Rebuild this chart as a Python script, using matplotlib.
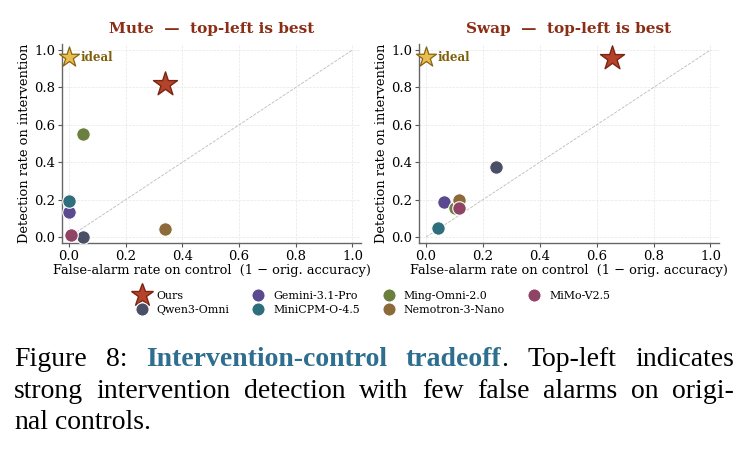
import matplotlib
matplotlib.use("Agg")
import matplotlib.pyplot as plt
from matplotlib.lines import Line2D

# ---------------- data ----------------
models = ["Ours", "Qwen3-Omni", "Gemini-3.1-Pro", "MiniCPM-O-4.5",
          "Ming-Omni-2.0", "Nemotron-3-Nano", "MiMo-V2.5"]
colors = ["#b5432a", "#4a4f66", "#5b4a8f", "#2f6f7d",
          "#6b7f3e", "#8c6a3a", "#8f4466"]
mute_far = [0.34, 0.05, 0.0, 0.0, 0.05, 0.34, 0.008]
mute_det = [0.82, 0.0, 0.134, 0.191, 0.552, 0.043, 0.013]
swap_far = [0.653, 0.246, 0.063, 0.043, 0.10, 0.115, 0.114]
swap_det = [0.956, 0.374, 0.185, 0.048, 0.155, 0.199, 0.153]
ideal_xy = (0.0, 0.96)
ticks = [0.0, 0.2, 0.4, 0.6, 0.8, 1.0]
titles = ["Mute  \u2014  top-left is best", "Swap  \u2014  top-left is best"]

plt.rcParams["font.family"] = ["DejaVu Serif"]

fig = plt.figure(figsize=(7.48, 4.57), dpi=100)
W, H = 748, 457

def px_axes(x0, x1, ytop, ybot):
    return fig.add_axes([x0 / W, 1 - ybot / H, (x1 - x0) / W, (ybot - ytop) / H])

axes = [px_axes(62, 361, 44, 243), px_axes(419, 719, 44, 243)]
panels = [(mute_far, mute_det), (swap_far, swap_det)]

for ax, (fx, dy), title in zip(axes, panels, titles):
    ax.set_xlim(-0.025, 1.03)
    ax.set_ylim(-0.032, 1.032)
    ax.set_xticks(ticks)
    ax.set_yticks(ticks)
    ax.set_xticklabels([f"{t:.1f}" for t in ticks])
    ax.set_yticklabels([f"{t:.1f}" for t in ticks])
    ax.tick_params(labelsize=9.5, length=3, width=0.8, color="#555555", pad=2)
    for s in ["top", "right"]:
        ax.spines[s].set_visible(False)
    for s in ["left", "bottom"]:
        ax.spines[s].set_color("#666666")
        ax.spines[s].set_linewidth(1.0)
    ax.grid(True, ls="--", lw=0.5, color="#e6e6e6")
    ax.set_axisbelow(True)
    ax.plot([0, 1], [0, 1], ls="--", lw=0.6, color="#bbbbbb", zorder=1)
    for i, m in enumerate(models):
        if m == "Ours":
            ax.scatter(fx[i], dy[i], marker="*", s=330, color=colors[i],
                       edgecolor="#7b2512", linewidth=1.0, zorder=5)
        else:
            ax.scatter(fx[i], dy[i], marker="o", s=95, color=colors[i],
                       edgecolor="white", linewidth=0.8, zorder=4)
    ax.scatter(*ideal_xy, marker="*", s=230, color="#e8bf4f",
               edgecolor="#8a6410", linewidth=0.9, zorder=6, clip_on=False)
    ax.annotate("ideal", xy=ideal_xy, xytext=(8, 0), textcoords="offset points",
                ha="left", va="center", fontsize=8.5, fontweight="bold",
                color="#7d5f0c")
    ax.set_title(title, fontsize=11, fontweight="bold", color="#8b2e16", pad=8)
    ax.set_xlabel("False-alarm rate on control  (1 \u2212 orig. accuracy)",
                  fontsize=9.4, labelpad=1)
    ax.set_ylabel("Detection rate on intervention", fontsize=9.4, labelpad=2)

handles = []
for i, m in enumerate(models):
    if m == "Ours":
        handles.append(Line2D([], [], ls="", marker="*", markersize=17,
                              color=colors[i], markeredgecolor="#7b2512",
                              markeredgewidth=1.0, label=m))
    else:
        handles.append(Line2D([], [], ls="", marker="o", markersize=9.5,
                              color=colors[i], markeredgecolor="white",
                              markeredgewidth=0.8, label=m))
fig.legend(handles=handles, loc="center", bbox_to_anchor=(0.497, 1 - 303 / H),
           ncol=4, frameon=False, fontsize=7.9, handletextpad=0.6,
           columnspacing=1.9, labelspacing=0.35, handlelength=1.5)

# ---------------- caption ----------------
cap_font = "Liberation Serif"
cap_size = 20
blue = "#2e6e8e"
renderer = fig.canvas.get_renderer()

def seg_width(txt, bold):
    t = fig.text(0, 0, txt, fontsize=cap_size, family=cap_font,
                 fontweight="bold" if bold else "normal")
    w = t.get_window_extent(renderer=renderer).width
    t.remove()
    return w

lines = [
    ([[("Figure", False, "black")], [("8:", False, "black")],
      [("Intervention-control", True, blue)],
      [("tradeoff", True, blue), (".", False, "black")],
      [("Top-left", False, "black")], [("indicates", False, "black")]], True),
    ([[(w, False, "black")] for w in
      "strong intervention detection with few false alarms on origi-".split()], True),
    ([[(w, False, "black")] for w in "nal controls.".split()], False),
]
x_left, x_right = 14, 734
baselines = [366, 397.5, 429]
space_w = seg_width("a b", False) - seg_width("ab", False)
for (tokens, justify), base in zip(lines, baselines):
    widths = [sum(seg_width(s, b) for s, b, c in tok) for tok in tokens]
    if justify:
        gap = (x_right - x_left - sum(widths)) / (len(tokens) - 1)
    else:
        gap = space_w
    x = x_left
    for tok, w in zip(tokens, widths):
        xx = x
        for s, b, c in tok:
            fig.text(xx / W, 1 - base / H, s, fontsize=cap_size, family=cap_font,
                     fontweight="bold" if b else "normal", color=c,
                     ha="left", va="baseline")
            xx += seg_width(s, b)
        x += w + gap

fig.savefig("out.png", dpi=100)
